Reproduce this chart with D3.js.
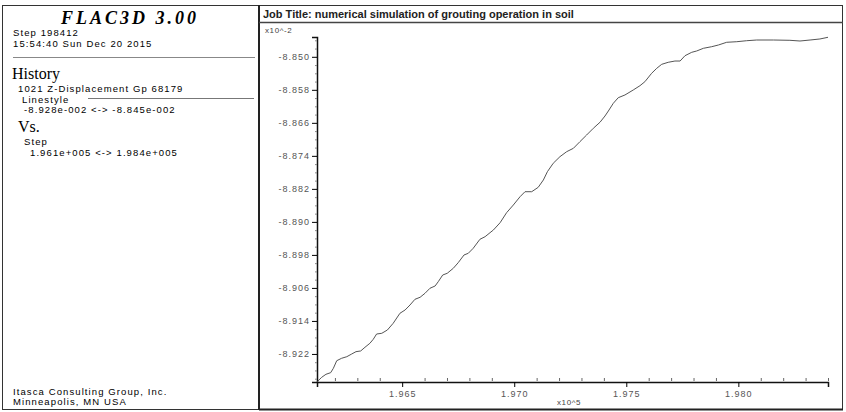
<!DOCTYPE html>
<html>
<head>
<meta charset="utf-8">
<script src="https://cdn.jsdelivr.net/npm/d3@7"></script>
<style>
  body { margin: 0; background: #fff; }
  text { font-family: "Liberation Sans", Arial, sans-serif; }
  .serif { font-family: "Liberation Serif", "Times New Roman", serif; }
</style>
</head>
<body>
<svg id="chart"></svg>
<script>
const width = 846;
const height = 412;

// history 1021: step (x10^5) vs z-displacement (x10^-2)
const steps = [1.96121, 1.96141, 1.96160, 1.96181, 1.96193, 1.96208, 1.96230, 1.96253, 1.96275, 1.96294,
  1.96315, 1.96334, 1.96356, 1.96371, 1.96386, 1.96409, 1.96434, 1.96460, 1.96490, 1.96513,
  1.96535, 1.96557, 1.96580, 1.96602, 1.96624, 1.96647, 1.96661, 1.96681, 1.96701, 1.96728,
  1.96750, 1.96776, 1.96795, 1.96817, 1.96847, 1.96870, 1.96892, 1.96907, 1.96937, 1.96966,
  1.96996, 1.97026, 1.97048, 1.97078, 1.97107, 1.97130, 1.97148, 1.97174, 1.97204, 1.97234,
  1.97264, 1.97293, 1.97323, 1.97353, 1.97383, 1.97405, 1.97420, 1.97442, 1.97464, 1.97494,
  1.97531, 1.97561, 1.97583, 1.97613, 1.97636, 1.97658, 1.97687, 1.97717, 1.97740, 1.97762,
  1.97792, 1.97814, 1.97844, 1.97881, 1.97911, 1.97948, 1.97993, 1.98037, 1.98082, 1.98156,
  1.98230, 1.98275, 1.98320, 1.98364, 1.98400];
const zDisp = [-8.92872, -8.92766, -8.92693, -8.92654, -8.92548, -8.92364, -8.92305, -8.92267, -8.92201, -8.92145,
  -8.92128, -8.92039, -8.91942, -8.91845, -8.91717, -8.91700, -8.91620, -8.91457, -8.91215, -8.91135,
  -8.91014, -8.90876, -8.90827, -8.90730, -8.90609, -8.90553, -8.90449, -8.90287, -8.90246, -8.90125,
  -8.89989, -8.89802, -8.89761, -8.89640, -8.89422, -8.89359, -8.89262, -8.89197, -8.89020, -8.88777,
  -8.88591, -8.88390, -8.88269, -8.88269, -8.88162, -8.87985, -8.87784, -8.87580, -8.87420, -8.87299,
  -8.87217, -8.87057, -8.86895, -8.86732, -8.86584, -8.86434, -8.86313, -8.86127, -8.85991, -8.85925,
  -8.85804, -8.85700, -8.85603, -8.85400, -8.85278, -8.85182, -8.85133, -8.85102, -8.85102, -8.84973,
  -8.84891, -8.84859, -8.84794, -8.84755, -8.84714, -8.84648, -8.84634, -8.84610, -8.84593, -8.84593,
  -8.84600, -8.84617, -8.84593, -8.84568, -8.84527];

const xTicks = [1.965, 1.970, 1.975, 1.980];
const yTicks = [-8.850, -8.858, -8.866, -8.874, -8.882, -8.890, -8.898, -8.906, -8.914, -8.922];

const headerLines = ['Step 198412', '15:54:40 Sun Dec 20 2015'];
const footerLines = ['Itasca Consulting Group, Inc.', 'Minneapolis, MN  USA'];

const svg = d3.select('#chart')
  .attr('width', width)
  .attr('height', height);

// frame
svg.append('rect')
  .attr('x', 2.5).attr('y', 5.5)
  .attr('width', 840).attr('height', 404)
  .attr('fill', 'none').attr('stroke', '#333').attr('stroke-width', 1);
svg.append('line')
  .attr('x1', 259).attr('x2', 259).attr('y1', 5).attr('y2', 410)
  .attr('stroke', '#222').attr('stroke-width', 2);
svg.append('line')
  .attr('x1', 259).attr('x2', 843).attr('y1', 22.5).attr('y2', 22.5)
  .attr('stroke', '#444').attr('stroke-width', 1.5);
svg.append('line')
  .attr('x1', 259).attr('x2', 843).attr('y1', 409.5).attr('y2', 409.5)
  .attr('stroke', '#222').attr('stroke-width', 2);

// left info panel
svg.append('text')
  .attr('class', 'serif')
  .attr('x', 130).attr('y', 24)
  .attr('text-anchor', 'middle')
  .attr('font-size', 18).attr('font-weight', 'bold').attr('font-style', 'italic')
  .attr('letter-spacing', 3)
  .text('FLAC3D 3.00');

const small = 9.5;
const sp = 1.1;

svg.selectAll('.header')
  .data(headerLines)
  .enter()
  .append('text')
  .attr('class', 'header')
  .attr('x', 13)
  .attr('y', (d, i) => 36 + i * 10.5)
  .attr('font-size', small).attr('letter-spacing', sp)
  .text(d => d);

svg.append('line')
  .attr('x1', 13).attr('x2', 255).attr('y1', 57.5).attr('y2', 57.5)
  .attr('stroke', '#888').attr('stroke-width', 1);

svg.append('text').attr('class', 'serif')
  .attr('x', 12).attr('y', 79).attr('font-size', 16)
  .text('History');
svg.append('text')
  .attr('x', 18).attr('y', 92).attr('font-size', small).attr('letter-spacing', sp)
  .text('1021 Z-Displacement Gp 68179');
svg.append('text')
  .attr('x', 22).attr('y', 102.5).attr('font-size', small).attr('letter-spacing', sp)
  .text('Linestyle');
svg.append('line')
  .attr('x1', 88).attr('x2', 254).attr('y1', 98.5).attr('y2', 98.5)
  .attr('stroke', '#777').attr('stroke-width', 1);
svg.append('text')
  .attr('x', 24).attr('y', 113).attr('font-size', small).attr('letter-spacing', sp)
  .text('-8.928e-002 <-> -8.845e-002');
svg.append('text').attr('class', 'serif')
  .attr('x', 18).attr('y', 132).attr('font-size', 16)
  .text('Vs.');
svg.append('text')
  .attr('x', 24).attr('y', 145).attr('font-size', small).attr('letter-spacing', sp)
  .text('Step');
svg.append('text')
  .attr('x', 30).attr('y', 155.5).attr('font-size', small).attr('letter-spacing', sp)
  .text('1.961e+005 <->  1.984e+005');

svg.selectAll('.footer')
  .data(footerLines)
  .enter()
  .append('text')
  .attr('class', 'footer')
  .attr('x', 13)
  .attr('y', (d, i) => 394.5 + i * 10.5)
  .attr('font-size', small).attr('letter-spacing', sp)
  .text(d => d);

// title bar
svg.append('text')
  .attr('x', 263).attr('y', 18)
  .attr('font-size', 11).attr('font-weight', 'bold').attr('fill', '#222')
  .text('Job Title: numerical simulation of grouting operation in soil');

// plot
const xScale = d3.scaleLinear()
  .domain([1.9612, 1.9840])
  .range([317, 828]);
const yScale = d3.scaleLinear()
  .domain([-8.9288, -8.8452])
  .range([382, 37]);

const fmt = v => d3.format('.3f')(v).replace('\u2212', '-');

const xMinor = d3.range(1.962, 1.9841, 0.001).filter(v => !xTicks.some(t => Math.abs(t - v) < 1e-6));
const yMinor = d3.range(-8.928, -8.845, 0.002).filter(v => !yTicks.some(t => Math.abs(t - v) < 1e-6));

const xAxis = d3.axisBottom(xScale)
  .tickValues(xTicks).tickFormat(fmt).tickSize(5).tickPadding(4);
const gx = svg.append('g')
  .attr('transform', `translate(0, ${yScale.range()[0]})`)
  .call(xAxis);
gx.select('.domain').attr('stroke', '#111').attr('stroke-width', 1.5);
gx.selectAll('text').attr('font-size', 9).attr('fill', '#555').attr('letter-spacing', 1);

svg.append('g')
  .attr('transform', `translate(0, ${yScale.range()[0]})`)
  .call(d3.axisBottom(xScale).tickValues(xMinor).tickSize(3).tickFormat(''))
  .call(g => g.select('.domain').remove())
  .selectAll('line').attr('stroke', '#666').attr('transform', 'translate(0,-4)');

const yAxis = d3.axisLeft(yScale)
  .tickValues(yTicks).tickFormat(fmt).tickSize(5).tickPadding(2);
const gy = svg.append('g')
  .attr('transform', `translate(${xScale.range()[0]}, 0)`)
  .call(yAxis);
gy.select('.domain').attr('stroke', '#111').attr('stroke-width', 1.5);
gy.selectAll('text').attr('font-size', 9).attr('fill', '#555').attr('letter-spacing', 1);

svg.append('g')
  .attr('transform', `translate(${xScale.range()[0]}, 0)`)
  .call(d3.axisLeft(yScale).tickValues(yMinor).tickSize(2).tickFormat(''))
  .call(g => g.select('.domain').remove())
  .selectAll('line').attr('stroke', '#888');

svg.append('text')
  .attr('x', 265).attr('y', 33)
  .attr('font-size', 8).attr('fill', '#444').attr('letter-spacing', 0.6)
  .text('x10^-2');
svg.append('text')
  .attr('x', 557).attr('y', 405)
  .attr('font-size', 8).attr('fill', '#444').attr('letter-spacing', 0.6)
  .text('x10^5');

const line = d3.line()
  .x((d, i) => xScale(steps[i]))
  .y(d => yScale(d));

svg.append('path')
  .datum(zDisp)
  .attr('d', line)
  .attr('fill', 'none')
  .attr('stroke', '#555')
  .attr('stroke-width', 1);
</script>
</body>
</html>
